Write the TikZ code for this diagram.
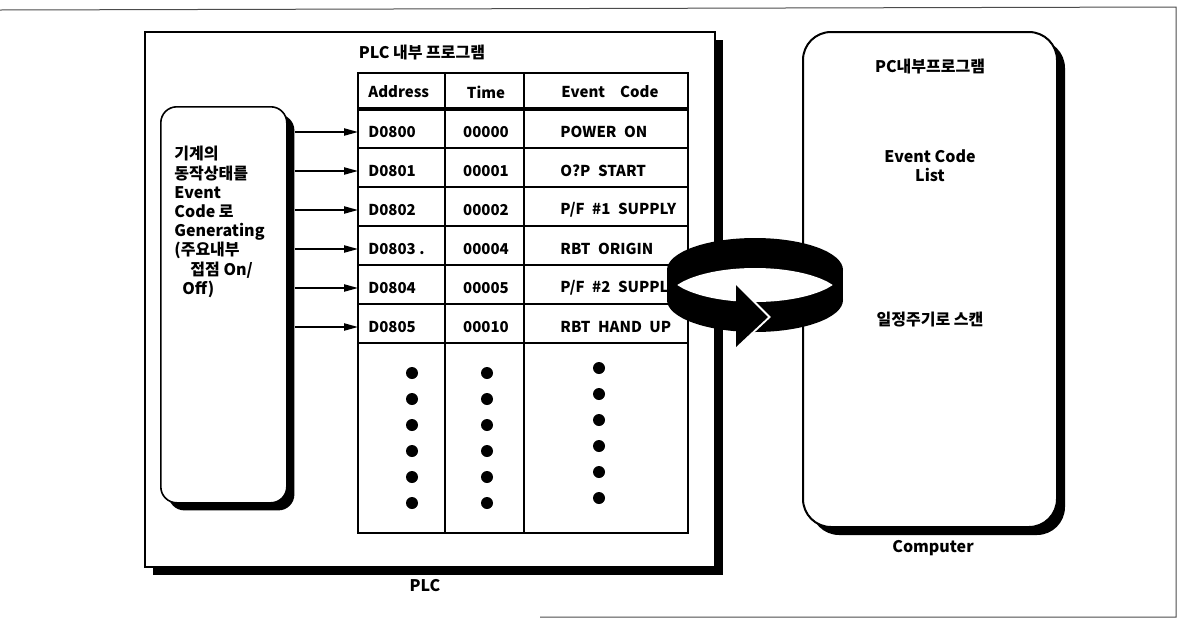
\documentclass[tikz,border=0pt]{standalone}
\usepackage{fontspec}
\setmainfont{Noto Sans CJK KR}
\usepackage{tikz}
\usetikzlibrary{positioning, arrows.meta, calc}

\begin{document}
\begin{tikzpicture}[x=0.5pt, y=-0.5pt,
        txt/.style={font=\fontsize{8}{9.6}\selectfont\bfseries, inner sep=0pt},
        cell/.style={font=\fontsize{7.5}{9}\selectfont\bfseries, inner sep=0pt},
        feed/.style={-{Triangle[length=7pt, width=3.6pt]}, line width=0.8pt}]
        \useasboundingbox (0,0) rectangle (1185,622);

        % Outer frame
        \draw[line width=0.5pt, black!70] (0,10) -- (1176,7) -- (1176,617) -- (540,617);

        % PLC box with its shadow
        \fill (153,40) rectangle (723,575);
        \draw[fill=white, line width=0.8pt] (145,32) rectangle (715,567);
        \node[txt] (plctitle) at (422,53) {PLC 내부 프로그램};
        \node[txt] (plclabel) at (425,586) {PLC};

        % Generating box
        \node[fill=black, rounded corners=8pt, minimum width=63pt, minimum height=198pt,
              anchor=north west] (genS) at (168,114) {};
        \node[draw, fill=white, line width=0.8pt, rounded corners=8pt, minimum width=63pt,
              minimum height=198pt, anchor=north west] (gen) at (160,106) {};
        \node[txt, anchor=north west, align=left] (gentxt) at (174,146)
            {기계의\\동작상태를\\Event\\Code 로\\Generating\\(주요내부\\\hspace{8pt}접점 On/\\\hspace{4pt}Off)};

        % The table
        \draw[line width=0.8pt] (358,73) rectangle (688,533);
        \draw[line width=1.6pt] (358,109) -- (688,109);
        \foreach \k in {1,...,6}
            \draw[line width=0.6pt] (358,{109+39*\k}) -- (688,{109+39*\k});
        \draw[line width=0.8pt] (445,73) -- (445,533);
        \draw[line width=0.8pt] (524,73) -- (524,533);

        % Header
        \node[cell, anchor=west] (hadr) at (368,92) {Address};
        \node[cell] (htime) at (486,92) {Time};
        \node[cell, anchor=west] (hev) at (561,92) {Event\quad Code};

        % Rows
        \foreach \adr/\tm/\ev [count=\i] in {D0800/00000/{POWER\enspace ON},
                D0801/00001/{O?P\enspace START}, D0802/00002/{P/F\enspace \#1\enspace SUPPLY},
                D0803 ./00004/{RBT\enspace ORIGIN}, D0804/00005/{P/F\enspace \#2\enspace SUPPLY},
                D0805/00010/{RBT\enspace HAND\enspace UP}} {
            \pgfmathsetmacro\ry{132+39*(\i-1)}
            \node[cell, anchor=west, inner sep=5pt] (a\i) at (358,\ry) {\adr};
            \node[cell] (t\i) at (486,\ry) {\tm};
            \node[cell, anchor=west] (e\i) at (560,\ry) {\ev};
            \draw[feed] (genS.east |- a\i.west) -- (a\i.west);
        }

        % Dots
        \foreach \k in {0,...,5} {
            \fill (412,{373+26*\k}) circle (3pt);
            \fill (487,{373+26*\k}) circle (3pt);
            \fill (599,{368+26*\k}) circle (3pt);
        }

        % Computer box with its shadow
        \fill[rounded corners=14pt] (811,40) rectangle (1065,535);
        \draw[fill=white, line width=1pt, rounded corners=14pt] (803,32) rectangle (1057,527);
        \node[txt] (pctitle) at (930,67) {PC내부프로그램};
        \node[txt, align=center] (evlist) at (930,166) {Event Code\\List};
        \node[txt] (scan) at (930,320) {일정주기로 스캔};
        \node[txt] (pclabel) at (933,548) {Computer};

        % The scan ring
        \fill (755,270) ellipse [x radius=88, y radius=32];
        \fill (755,300) ellipse [x radius=88, y radius=32];
        \fill (667,270) rectangle (843,300);
        \begin{scope}
            \clip (755,270) ellipse [x radius=88, y radius=32];
            \fill[white] (755,300) ellipse [x radius=88, y radius=32];
        \end{scope}
        \draw[white, line width=2pt] (736,285) -- (768,317) -- (736,347);
        \fill (736,285) -- (768,317) -- (736,347) -- cycle;
    \end{tikzpicture}
\end{document}
